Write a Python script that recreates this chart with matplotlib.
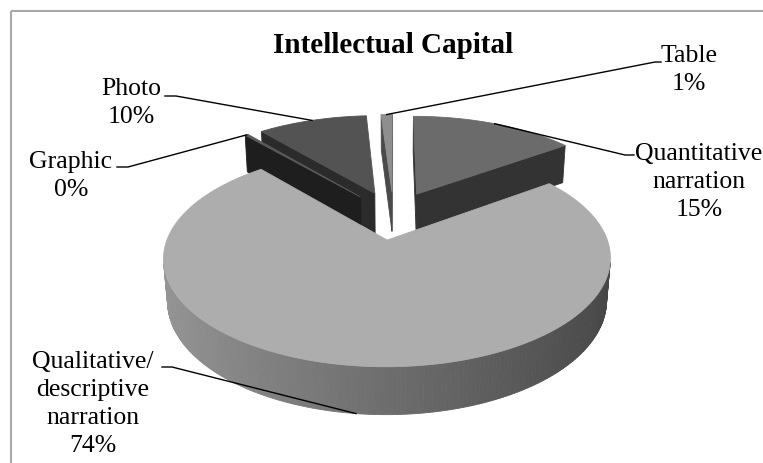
import matplotlib.pyplot as plt
from matplotlib.patches import Polygon, Rectangle
import numpy as np

title = "Intellectual Capital"
labels = ["Quantitative\nnarration", "Qualitative/\ndescriptive\nnarration",
          "Graphic", "Photo", "Table"]
values = [15.0, 74.0, 0.3, 10.0, 1.0]

top_colors = ["#6b6b6b", "#adadad", "#5a5a5a", "#535353", "#8e8e8e"]
face_colors = ["#333333", "#5a5a5a", "#1e1e1e", "#2b2b2b", "#4a4a4a"]

# label layout (pixels): first-line baseline, leader knee, leader end
label_xy = [(699, 160), (93, 368), (71, 168), (131, 95), (689, 62)]
knee_xy = [(625, 155), (172, 367), (128, 167), (176, 96), (655, 62)]
end_xy = [(634, 155), (162, 367), (117, 167), (165, 96), (661, 62)]
line_gap = 28

# simple perspective camera for the 3d pie
D, sphi = 5.5, 0.44
cphi = np.sqrt(1 - sphi ** 2)
kx, ky = 1162, 1210
cx, cy = 393.5, 215
h = 0.21
explode = 0.25
cam = np.array([0, -D * cphi, D * sphi])


def proj(X, Y, Z):
    depth = D + Y * cphi - Z * sphi
    up = Y * sphi + Z * cphi
    return cx + kx * X / depth, cy - ky * up / depth


def dist(p):
    return D + p[1] * cphi - p[2] * sphi


def visible(n, p):
    return np.dot(n, cam - np.asarray(p)) > 0


def side_color(t):
    L = 0.43 - 0.16 * np.sin(t)
    return (L, L, L)


total = sum(values)
fr = np.array(values) / total
starts = np.concatenate([[0], np.cumsum(fr)[:-1]]) * 2 * np.pi
ends = np.cumsum(fr) * 2 * np.pi

fig = plt.figure(figsize=(7.63, 4.63), dpi=100)
ax = fig.add_axes([0, 0, 1, 1])
ax.set_xlim(0, 763)
ax.set_ylim(463, 0)
ax.axis("off")

faces = []   # (depth, xy, color)
tops = []
for i in range(len(values)):
    t1, t2 = starts[i], ends[i]
    mid = (t1 + t2) / 2
    o = np.array([explode * np.sin(mid), explode * np.cos(mid), 0])
    ts = np.linspace(t1, t2, max(2, int(np.degrees(t2 - t1)) + 2))

    # top face
    pts = [o] + [o + [np.sin(t), np.cos(t), 0] for t in ts]
    tops.append(([proj(*p) for p in pts], top_colors[i]))

    # radial faces
    for t, n in [(t1, np.array([-np.cos(t1), np.sin(t1), 0])),
                 (t2, np.array([np.cos(t2), -np.sin(t2), 0]))]:
        e = o + [np.sin(t), np.cos(t), 0]
        quad = [o, e, e + [0, 0, -h], o + [0, 0, -h]]
        if visible(n, quad[1]):
            d = np.mean([dist(p) for p in quad])
            faces.append((d, [proj(*p) for p in quad], face_colors[i]))

    # outer side, small pieces
    for a, b in zip(ts[:-1], ts[1:]):
        m = (a + b) / 2
        n = np.array([np.sin(m), np.cos(m), 0])
        pa = o + [np.sin(a), np.cos(a), 0]
        pb = o + [np.sin(b), np.cos(b), 0]
        quad = [pa, pb, pb + [0, 0, -h], pa + [0, 0, -h]]
        if visible(n, o + n):
            d = np.mean([dist(p) for p in quad])
            if i == 1:
                col = side_color(m)
            else:
                col = face_colors[i]
            faces.append((d, [proj(*p) for p in quad], col))

faces.sort(key=lambda f: -f[0])
for d, xy, col in faces:
    ax.add_patch(Polygon(xy, closed=True, facecolor=col, edgecolor=col, lw=0.6))
for xy, col in tops:
    ax.add_patch(Polygon(xy, closed=True, facecolor=col, edgecolor=col, lw=0.6))

# labels and leader lines
for i in range(len(values)):
    mid = (starts[i] + ends[i]) / 2
    o = np.array([explode * np.sin(mid), explode * np.cos(mid), 0])
    p = o + [np.sin(mid), np.cos(mid), 0]
    if np.cos(mid) < 0:
        p = p + [0, 0, -h]
    ax_, ay_ = proj(*p)
    ax.plot([ax_, knee_xy[i][0], end_xy[i][0]], [ay_, knee_xy[i][1], end_xy[i][1]],
            color="black", lw=1.0)
    pct = f"{round(100 * values[i] / total):.0f}%"
    lines = labels[i].split("\n") + [pct]
    for j, s in enumerate(lines):
        ax.text(label_xy[i][0], label_xy[i][1] + j * line_gap, s,
                ha="center", va="baseline", fontsize=18.5,
                family="Liberation Serif", color="black")

ax.text(393, 53, title, ha="center", va="baseline", fontsize=21,
        fontweight="bold", family="Liberation Serif")

ax.add_patch(Rectangle((11, 11), 800, 500, fill=False, edgecolor="#a8a8a8", lw=1.5))

fig.savefig("out.png", dpi=100)
